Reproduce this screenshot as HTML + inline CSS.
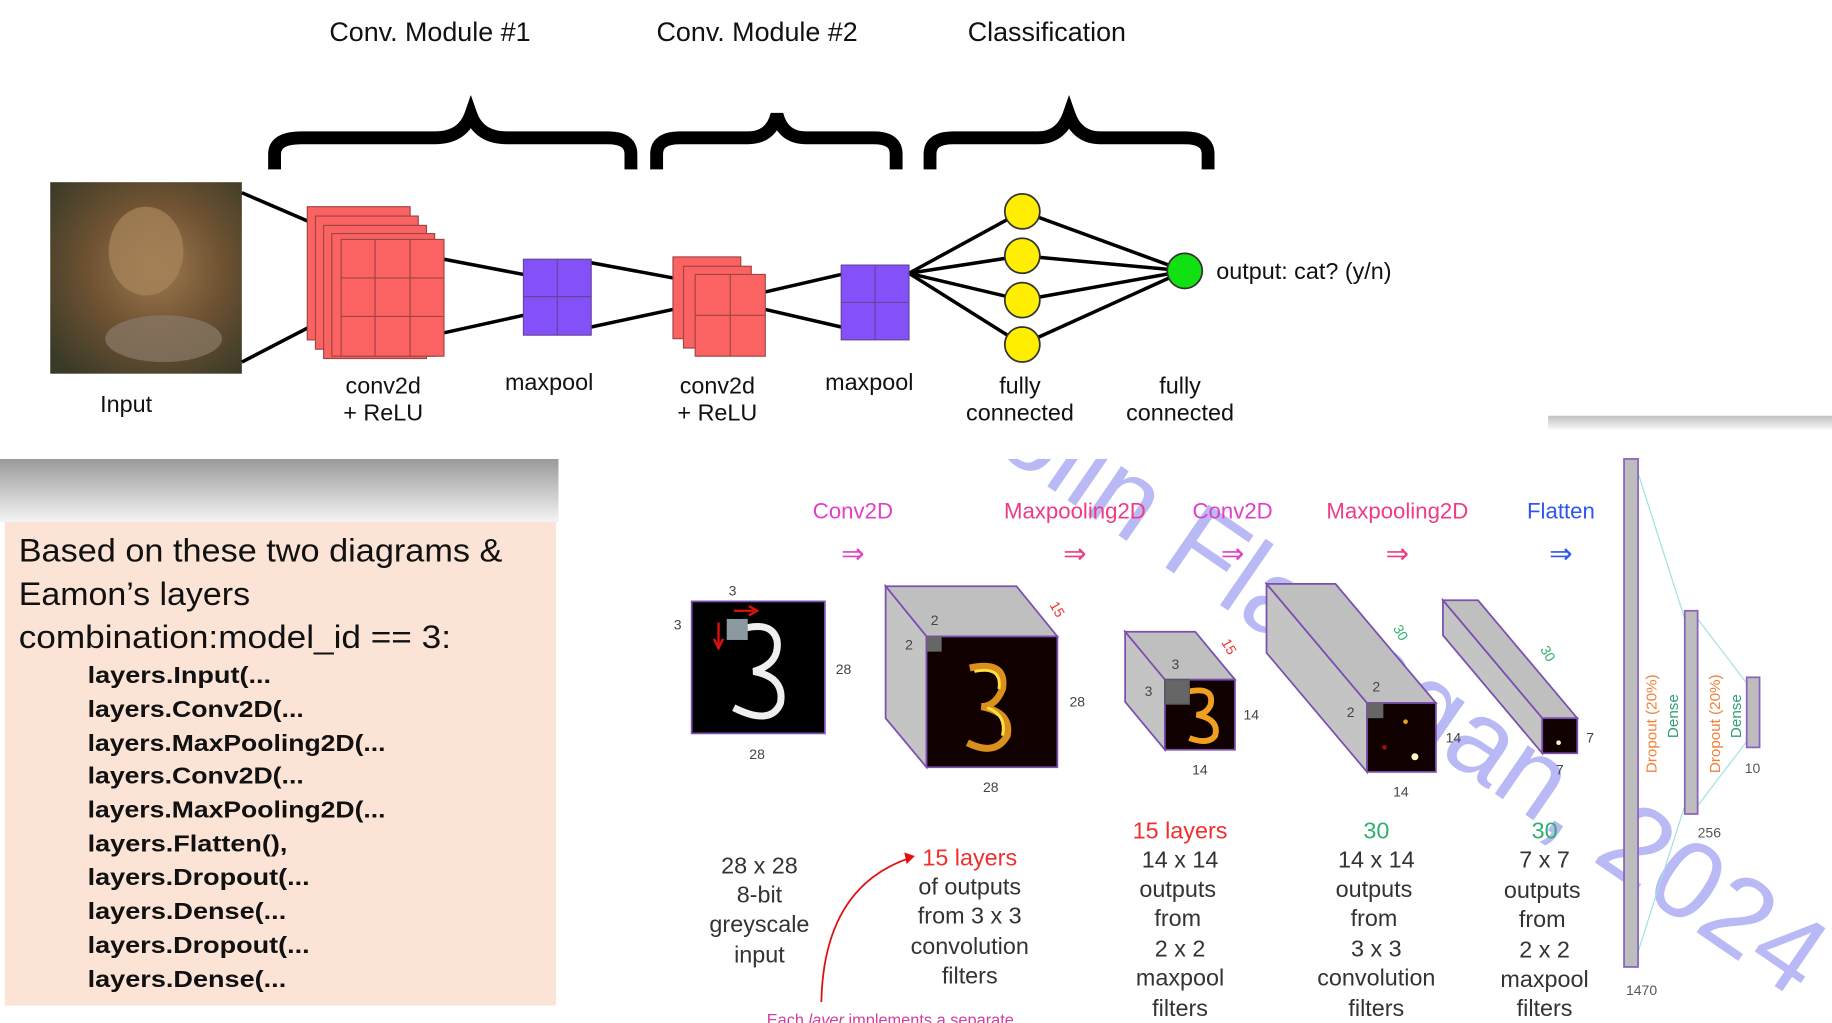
<!DOCTYPE html>
<html><head><meta charset="utf-8"><style>
html,body{margin:0;padding:0;background:#fff;overflow:hidden}
svg{display:block}
text{font-family:"Liberation Sans",sans-serif}
</style></head><body>
<svg width="1832" height="1023" viewBox="0 0 1568 876" preserveAspectRatio="none" xmlns="http://www.w3.org/2000/svg">
<defs>
<linearGradient id="shd" x1="0" y1="0" x2="0" y2="1"><stop offset="0" stop-color="#9a9a9a"/><stop offset="1" stop-color="#f4f4f4"/></linearGradient>
<linearGradient id="shd2" x1="0" y1="0" x2="0" y2="1"><stop offset="0" stop-color="#c0c0c0"/><stop offset="1" stop-color="#fafafa"/></linearGradient>
<radialGradient id="cat" cx="0.55" cy="0.45" r="0.7"><stop offset="0" stop-color="#a07a50"/><stop offset="0.5" stop-color="#6e5232"/><stop offset="1" stop-color="#3a3a28"/></radialGradient>
</defs>
<rect x="0" y="0" width="1568" height="876" fill="#fff"/>
<rect x="1325" y="356" width="243" height="12" fill="url(#shd2)"/>
<rect x="0" y="393" width="478" height="54" fill="url(#shd)"/>
<rect x="4" y="447" width="472" height="414" fill="#fbe3d6"/>

<text x="791" y="344" font-size="95" fill="#b9b9f5" transform="rotate(34.5 791 344)">Colin Flanagan, 2024</text>

<g font-size="19" text-anchor="middle">
<text x="730" y="444" fill="#e040c8">Conv2D</text>
<text x="920" y="444" fill="#ee3c84">Maxpooling2D</text>
<text x="1055" y="444" fill="#e040c8">Conv2D</text>
<text x="1196" y="444" fill="#ee3c84">Maxpooling2D</text>
<text x="1336" y="444" fill="#2f55f0">Flatten</text>
<text x="730" y="482" fill="#e040c8" font-size="24">⇒</text>
<text x="920" y="482" fill="#ee3c84" font-size="24">⇒</text>
<text x="1055" y="482" fill="#e040c8" font-size="24">⇒</text>
<text x="1196" y="482" fill="#ee3c84" font-size="24">⇒</text>
<text x="1336" y="482" fill="#2f55f0" font-size="24">⇒</text>
</g>

<rect x="592" y="515" width="114" height="113" fill="#000" stroke="#7a4fb0" stroke-width="1.5"/>
<path d="M630,540 Q660,530 665,548 Q668,568 645,575 Q672,580 668,602 Q660,622 628,606" fill="none" stroke="#eee" stroke-width="6"/>
<rect x="622" y="530" width="18" height="18" fill="#8a9aa0"/>
<path d="M628,523 H645 M641,519 L648,523 641,527" stroke="#e01010" stroke-width="2" fill="none"/>
<path d="M615,533 V552 M611,547 L615,555 619,547" stroke="#e01010" stroke-width="2" fill="none"/>
<g font-size="12" fill="#444" text-anchor="middle">
<text x="627" y="510">3</text><text x="580" y="539">3</text><text x="722" y="577">28</text><text x="648" y="650">28</text>
</g>

<g stroke="#7a4fb0" stroke-width="1.5">
<polygon points="758,502 870,502 905,545 793,545" fill="#bfbfbf"/>
<polygon points="758,502 793,545 793,657 758,615" fill="#c4c4c4"/>
<rect x="793" y="545" width="112" height="112" fill="#100000"/>
</g>
<path d="M830,572 Q862,565 858,590 Q852,605 840,605 Q866,610 862,630 Q852,648 828,636" fill="none" stroke="#f0a020" stroke-width="6" opacity="0.9"/>
<path d="M834,575 Q858,570 855,590 M845,606 Q862,612 858,630" fill="none" stroke="#ffe040" stroke-width="2.5"/>
<rect x="793" y="545" width="13" height="13" fill="#666"/>
<g font-size="12" fill="#444" text-anchor="middle">
<text x="800" y="535">2</text><text x="778" y="556">2</text><text x="922" y="605">28</text><text x="848" y="678">28</text>
</g>
<text x="898" y="518" font-size="12" fill="#f03030" transform="rotate(60 898 518)">15</text>

<g stroke="#7a4fb0" stroke-width="1.5">
<polygon points="963,541 1023,541 1057,582 997,582" fill="#bfbfbf"/>
<polygon points="963,541 997,582 997,642 963,601" fill="#c4c4c4"/>
<rect x="997" y="582" width="60" height="60" fill="#100000"/>
</g>
<path d="M1018,592 Q1040,588 1036,604 Q1032,612 1024,612 Q1044,616 1040,630 Q1034,638 1018,632" fill="none" stroke="#f0a020" stroke-width="5"/>
<rect x="997" y="582" width="21" height="21" fill="#666" stroke="#555"/>
<g font-size="12" fill="#444" text-anchor="middle">
<text x="1006" y="573">3</text><text x="983" y="596">3</text><text x="1071" y="616">14</text><text x="1027" y="663">14</text>
</g>
<text x="1045" y="550" font-size="12" fill="#f03030" transform="rotate(60 1045 550)">15</text>

<g stroke="#7a4fb0" stroke-width="1.5">
<polygon points="1084,500 1143,500 1229,602 1170,602" fill="#bfbfbf"/>
<polygon points="1084,500 1170,602 1170,661 1084,559" fill="#c4c4c4"/>
<rect x="1170" y="602" width="59" height="59" fill="#100000"/>
</g>
<circle cx="1211" cy="648" r="3" fill="#fff8c0"/><circle cx="1203" cy="618" r="2" fill="#e0a020"/><circle cx="1185" cy="640" r="2" fill="#a01000"/>
<rect x="1170" y="602" width="14" height="13" fill="#666"/>
<g font-size="12" fill="#444" text-anchor="middle">
<text x="1178" y="592">2</text><text x="1156" y="614">2</text><text x="1244" y="636">14</text><text x="1199" y="682">14</text>
</g>
<text x="1192" y="538" font-size="12" fill="#30b070" transform="rotate(60 1192 538)">30</text>

<g stroke="#7a4fb0" stroke-width="1.5">
<polygon points="1235,514 1265,514 1350,615 1320,615" fill="#bfbfbf"/>
<polygon points="1235,514 1320,615 1320,645 1235,544" fill="#c4c4c4"/>
<rect x="1320" y="615" width="30" height="30" fill="#100000"/>
</g>
<circle cx="1334" cy="636" r="2" fill="#fff8c0"/>
<g font-size="12" fill="#444" text-anchor="middle">
<text x="1361" y="636">7</text><text x="1335" y="663">7</text>
</g>
<text x="1318" y="556" font-size="12" fill="#30b070" transform="rotate(60 1318 556)">30</text>

<g stroke="#a0e0e0" stroke-width="1">
<line x1="1402" y1="405" x2="1442" y2="530"/><line x1="1402" y1="815" x2="1442" y2="690"/>
<line x1="1453" y1="530" x2="1495" y2="585"/><line x1="1453" y1="690" x2="1495" y2="635"/>
</g>
<g stroke="#8a62c0" stroke-width="1.5" fill="#bdbdbd">
<rect x="1390" y="393" width="12" height="435"/>
<rect x="1442" y="523" width="11" height="174"/>
<rect x="1495" y="580" width="11" height="60"/>
</g>
<g font-size="13">
<text x="1418" y="662" fill="#f0803a" transform="rotate(-90 1418 662)">Dropout (20%)</text>
<text x="1436" y="632" fill="#30a070" transform="rotate(-90 1436 632)">Dense</text>
<text x="1472" y="662" fill="#f0803a" transform="rotate(-90 1472 662)">Dropout (20%)</text>
<text x="1490" y="632" fill="#30a070" transform="rotate(-90 1490 632)">Dense</text>
</g>
<g font-size="12" fill="#555" text-anchor="middle">
<text x="1405" y="852">1470</text><text x="1463" y="717">256</text><text x="1500" y="662">10</text>
</g>

<g font-size="20" fill="#333" text-anchor="middle">
<text x="650" y="748">28 x 28</text><text x="650" y="773">8-bit</text><text x="650" y="798">greyscale</text><text x="650" y="824">input</text>
<text x="830" y="741" fill="#f03030">15 layers</text><text x="830" y="766">of outputs</text><text x="830" y="791">from 3 x 3</text><text x="830" y="817">convolution</text><text x="830" y="842">filters</text>
<text x="1010" y="718" fill="#f03030">15 layers</text><text x="1010" y="743">14 x 14</text><text x="1008" y="768">outputs</text><text x="1008" y="793">from</text><text x="1010" y="819">2 x 2</text><text x="1010" y="844">maxpool</text><text x="1010" y="870">filters</text>
<text x="1178" y="718" fill="#30b070">30</text><text x="1178" y="743">14 x 14</text><text x="1176" y="768">outputs</text><text x="1176" y="793">from</text><text x="1178" y="819">3 x 3</text><text x="1178" y="844">convolution</text><text x="1178" y="870">filters</text>
<text x="1322" y="718" fill="#30b070">30</text><text x="1322" y="743">7 x 7</text><text x="1320" y="769">outputs</text><text x="1320" y="794">from</text><text x="1322" y="820">2 x 2</text><text x="1322" y="845">maxpool</text><text x="1322" y="870">filters</text>
</g>
<path d="M703,858 Q705,760 778,735" fill="none" stroke="#e01010" stroke-width="1.5"/>
<path d="M774,730 L783,733 776,740 Z" fill="#e01010"/>
<text x="762" y="878" font-size="14" fill="#d040a0" text-anchor="middle">Each <tspan font-style="italic">layer</tspan> implements a separate</text>

<g font-size="28" fill="#111">
<text x="16" y="481" textLength="414" lengthAdjust="spacingAndGlyphs">Based on these two diagrams &amp;</text>
<text x="16" y="518" textLength="198" lengthAdjust="spacingAndGlyphs">Eamon’s layers</text>
<text x="16" y="555" textLength="370" lengthAdjust="spacingAndGlyphs">combination:model_id == 3:</text>
</g>
<g font-size="20" font-weight="bold" fill="#111" lengthAdjust="spacingAndGlyphs">
<text x="75" y="585" textLength="157" lengthAdjust="spacingAndGlyphs">layers.Input(...</text>
<text x="75" y="614" textLength="185" lengthAdjust="spacingAndGlyphs">layers.Conv2D(...</text>
<text x="75" y="643" textLength="255" lengthAdjust="spacingAndGlyphs">layers.MaxPooling2D(...</text>
<text x="75" y="671" textLength="185" lengthAdjust="spacingAndGlyphs">layers.Conv2D(...</text>
<text x="75" y="700" textLength="255" lengthAdjust="spacingAndGlyphs">layers.MaxPooling2D(...</text>
<text x="75" y="729" textLength="171" lengthAdjust="spacingAndGlyphs">layers.Flatten(),</text>
<text x="75" y="758" textLength="190" lengthAdjust="spacingAndGlyphs">layers.Dropout(...</text>
<text x="75" y="787" textLength="170" lengthAdjust="spacingAndGlyphs">layers.Dense(...</text>
<text x="75" y="816" textLength="190" lengthAdjust="spacingAndGlyphs">layers.Dropout(...</text>
<text x="75" y="845" textLength="170" lengthAdjust="spacingAndGlyphs">layers.Dense(...</text>
</g>

<rect x="0" y="0" width="1325" height="393" fill="#fff"/>
<g font-size="23" fill="#111" text-anchor="middle">
<text x="368" y="35">Conv. Module #1</text>
<text x="648" y="35">Conv. Module #2</text>
<text x="896" y="35">Classification</text>
</g>
<g fill="none" stroke="#000" stroke-width="11">
<path d="M235,145 V132 Q235,118 258,118 H372 Q396,118 403,98 Q410,118 434,118 H520 Q540,118 540,132 V145"/>
<path d="M562,145 V132 Q562,118 582,118 H640 Q660,118 665,98 Q670,118 690,118 H748 Q767,118 767,132 V145"/>
<path d="M796,145 V132 Q796,118 816,118 H888 Q908,118 915,98 Q922,118 942,118 H1014 Q1034,118 1034,132 V145"/>
</g>
<rect x="43" y="156" width="164" height="164" fill="url(#cat)"/>
<ellipse cx="125" cy="215" rx="32" ry="38" fill="#a58257" opacity="0.8"/>
<ellipse cx="140" cy="290" rx="50" ry="20" fill="#8a7a6a" opacity="0.7"/>
<g stroke="#000" stroke-width="3">
<line x1="207" y1="165" x2="265" y2="190"/><line x1="207" y1="310" x2="265" y2="280"/>
<line x1="380" y1="222" x2="448" y2="235"/><line x1="380" y1="285" x2="448" y2="270"/>
<line x1="506" y1="225" x2="576" y2="238"/><line x1="506" y1="280" x2="576" y2="265"/>
<line x1="655" y1="250" x2="720" y2="235"/><line x1="655" y1="265" x2="720" y2="280"/>
<line x1="778" y1="234" x2="875" y2="181"/><line x1="778" y1="234" x2="875" y2="219"/><line x1="778" y1="234" x2="875" y2="257"/><line x1="778" y1="234" x2="875" y2="295"/>
<line x1="875" y1="181" x2="1014" y2="232"/><line x1="875" y1="219" x2="1014" y2="232"/><line x1="875" y1="257" x2="1014" y2="232"/><line x1="875" y1="295" x2="1014" y2="232"/>
</g>
<g fill="#fb6363" stroke="#a04444" stroke-width="1">
<rect x="263" y="177" width="88" height="114"/>
<rect x="270" y="185" width="88" height="114"/>
<rect x="277" y="193" width="88" height="114"/>
<rect x="284" y="200" width="88" height="105"/>
<rect x="292" y="205" width="88" height="100"/>
</g>
<path d="M321,205 V305 M351,205 V305 M292,238 H380 M292,271 H380" stroke="#a04444" stroke-width="1"/>
<g fill="#fb6363" stroke="#a04444" stroke-width="1">
<rect x="576" y="220" width="58" height="70"/>
<rect x="585" y="228" width="58" height="70"/>
<rect x="595" y="235" width="60" height="70"/>
</g>
<path d="M625,235 V305 M595,270 H655" stroke="#a04444"/>
<rect x="448" y="222" width="58" height="65" fill="#8450f8" stroke="#664499"/>
<path d="M477,222 V287 M448,254 H506" stroke="#664499"/>
<rect x="720" y="227" width="58" height="64" fill="#8450f8" stroke="#664499"/>
<path d="M749,227 V291 M720,259 H778" stroke="#664499"/>
<g fill="#ffee00" stroke="#333" stroke-width="1.5">
<circle cx="875" cy="181" r="15"/><circle cx="875" cy="219" r="15"/><circle cx="875" cy="257" r="15"/><circle cx="875" cy="295" r="15"/>
</g>
<circle cx="1014" cy="232" r="15" fill="#11e011" stroke="#333" stroke-width="1.5"/>
<g font-size="20" fill="#111" text-anchor="middle">
<text x="1116" y="239">output: cat? (y/n)</text>
<text x="108" y="353">Input</text>
<text x="328" y="337">conv2d</text><text x="328" y="360">+ ReLU</text>
<text x="470" y="334">maxpool</text>
<text x="614" y="337">conv2d</text><text x="614" y="360">+ ReLU</text>
<text x="744" y="334">maxpool</text>
<text x="873" y="337">fully</text><text x="873" y="360">connected</text>
<text x="1010" y="337">fully</text><text x="1010" y="360">connected</text>
</g>
</svg>
</body></html>
